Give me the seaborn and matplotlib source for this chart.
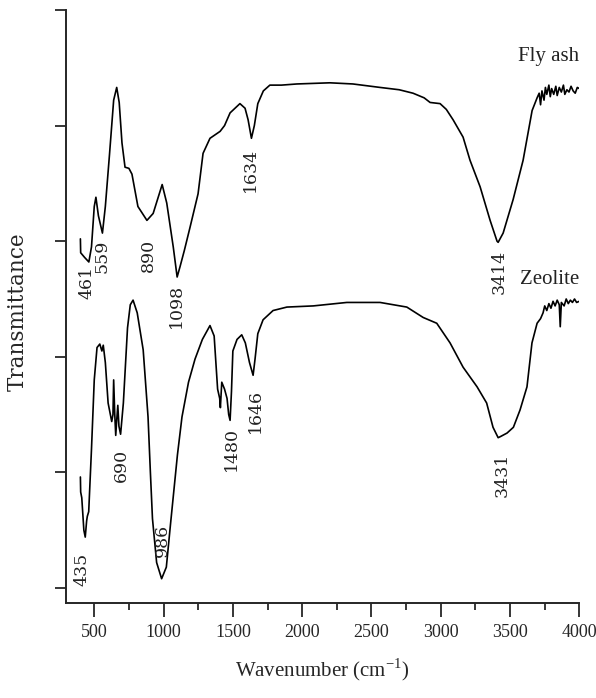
import numpy as np
import pandas as pd
import seaborn as sns
import matplotlib.pyplot as plt

# FTIR spectra (wavenumber cm-1, transmittance offset units)
fly_wn = [400, 402, 430, 461, 480, 500, 512, 530, 559, 580, 610, 640, 662, 680, 700,
          722, 750, 772, 815, 880, 925, 990, 1023, 1070, 1098, 1119, 1150, 1191, 1249,
          1285, 1335, 1408, 1440, 1480, 1551, 1588, 1610, 1634, 1655, 1680, 1720, 1767,
          1850, 1962, 2200, 2366, 2562, 2700, 2800, 2880, 2923, 2995, 3040, 3089, 3161,
          3211, 3284, 3356, 3406, 3414, 3450, 3522, 3594, 3659, 3695, 3710, 3720, 3730,
          3745, 3755, 3765, 3780, 3790, 3800, 3815, 3830, 3840, 3855, 3870, 3885, 3895,
          3910, 3925, 3940, 3955, 3970, 3985, 4000]
fly_t = [3.02, 2.90, 2.86, 2.82, 2.95, 3.30, 3.38, 3.22, 3.07, 3.30, 3.75, 4.22, 4.33, 4.20,
         3.85, 3.64, 3.63, 3.58, 3.30, 3.18, 3.24, 3.49, 3.33, 2.95, 2.69, 2.78, 2.92, 3.12,
         3.41, 3.76, 3.89, 3.95, 4.00, 4.11, 4.19, 4.15, 4.05, 3.89, 4.00, 4.19, 4.30, 4.35,
         4.35, 4.36, 4.37, 4.36, 4.33, 4.31, 4.28, 4.24, 4.20, 4.19, 4.14, 4.05, 3.90,
         3.70, 3.47, 3.18, 3.00, 2.99, 3.07, 3.36, 3.70, 4.13, 4.24, 4.28, 4.18, 4.30,
         4.22, 4.33, 4.27, 4.35, 4.25, 4.32, 4.27, 4.34, 4.26, 4.33, 4.29, 4.35, 4.27,
         4.31, 4.29, 4.34, 4.30, 4.28, 4.33, 4.32]

zeo_wn = [400, 402, 410, 425, 435, 445, 450, 460, 480, 500, 520, 540, 555, 565, 580, 600,
          626, 635, 640, 648, 655, 662, 670, 678, 690, 710, 740, 760, 780, 810, 853, 888,
          905, 920, 950, 986, 1020, 1050, 1075, 1100, 1133, 1180, 1227, 1280, 1335, 1365,
          1390, 1405, 1410, 1420, 1440, 1458, 1470, 1480, 1490, 1500, 1530, 1564, 1590,
          1620, 1646, 1660, 1680, 1718, 1790, 1890, 2080, 2322, 2562, 2755, 2873, 2971,
          3067, 3161, 3262, 3331, 3377, 3414, 3431, 3478, 3524, 3572, 3622, 3658, 3695,
          3720, 3738, 3750, 3765, 3780, 3795, 3810, 3825, 3840, 3855, 3862, 3870, 3890,
          3905, 3920, 3935, 3950, 3965, 3980, 4000]
zeo_t = [0.96, 0.83, 0.78, 0.50, 0.44, 0.58, 0.62, 0.66, 1.20, 1.80, 2.08, 2.11, 2.05, 2.10,
         1.95, 1.60, 1.44, 1.50, 1.80, 1.50, 1.32, 1.45, 1.58, 1.40, 1.33, 1.60, 2.25, 2.45,
         2.49, 2.38, 2.06, 1.48, 1.00, 0.60, 0.22, 0.08, 0.18, 0.55, 0.85, 1.15, 1.48, 1.78,
         1.98, 2.15, 2.27, 2.18, 1.72, 1.64, 1.56, 1.78, 1.72, 1.64, 1.50, 1.45, 1.70, 2.05,
         2.15, 2.19, 2.12, 1.95, 1.84, 1.98, 2.20, 2.32, 2.40, 2.43, 2.44, 2.47, 2.47, 2.43,
         2.34, 2.29, 2.12, 1.91, 1.74, 1.60, 1.39, 1.30, 1.31, 1.34, 1.39, 1.54, 1.74, 2.12,
         2.29, 2.33, 2.38, 2.44, 2.40, 2.46, 2.42, 2.48, 2.44, 2.49, 2.45, 2.26, 2.47, 2.44,
         2.50, 2.46, 2.49, 2.47, 2.50, 2.47, 2.48]

peak_labels = ['461', '559', '890', '1098', '1634', '3414',
               '435', '690', '986', '1480', '1646', '3431']
peak_x = [451, 558, 890, 1090, 1624, 3420, 411, 693, 989, 1493, 1660, 3442]
peak_y = [2.64, 2.87, 2.88, 2.44, 3.62, 2.73, 0.16, 1.06, 0.41, 1.20, 1.53, 0.98]

sample_names = ['Fly ash', 'Zeolite']
sample_label_y = [4.60, 2.67]

sns.set_style('ticks')
plt.rcParams['font.family'] = ['Liberation Serif', 'DejaVu Serif']
plt.rcParams['mathtext.fontset'] = 'custom'
plt.rcParams['mathtext.rm'] = 'Liberation Serif'

fig = plt.figure(figsize=(5.96, 6.98), dpi=100)
ax = fig.add_axes([0.1107, 0.1361, 0.8614, 0.8496])

sns.lineplot(x=fly_wn, y=fly_t, color='black', lw=1.2, sort=False, estimator=None, ax=ax)
sns.lineplot(x=zeo_wn, y=zeo_t, color='black', lw=1.2, sort=False, estimator=None, ax=ax)

for lab, x, y in zip(peak_labels, peak_x, peak_y):
    ax.text(x, y, lab, rotation=90, ha='center', va='center', fontsize=12.5,
            family='DejaVu Serif', color='#222222')

for name, y in zip(sample_names, sample_label_y):
    ax.text(4000, y, name, ha='right', va='center', fontsize=15, color='#222222')

ax.set_xlim(296, 4000)
ax.set_ylim(-0.13, 5)
ax.set_xticks(np.arange(500, 4001, 500))
ax.set_xticks(np.arange(750, 4000, 500), minor=True)
ax.set_yticks(np.arange(0, 6, 1))
ax.set_yticklabels([])
ax.tick_params(axis='x', which='major', length=10, width=1.3, labelsize=13, pad=5)
ax.tick_params(axis='x', which='minor', length=5, width=1.3)
ax.tick_params(axis='y', length=8, width=1.3)
for s in ['left', 'bottom']:
    ax.spines[s].set_linewidth(1.4)
sns.despine(ax=ax)

ax.set_xlabel('Wavenumber (cm$^{-1}$)', fontsize=15)
ax.xaxis.set_label_coords(0.5, -0.09)
ax.set_ylabel('Transmittance', fontsize=15.5, family='DejaVu Serif', va='center')
ax.yaxis.set_label_coords(-0.094, 0.492)

fig.savefig('out.png', dpi=100, facecolor='white')
